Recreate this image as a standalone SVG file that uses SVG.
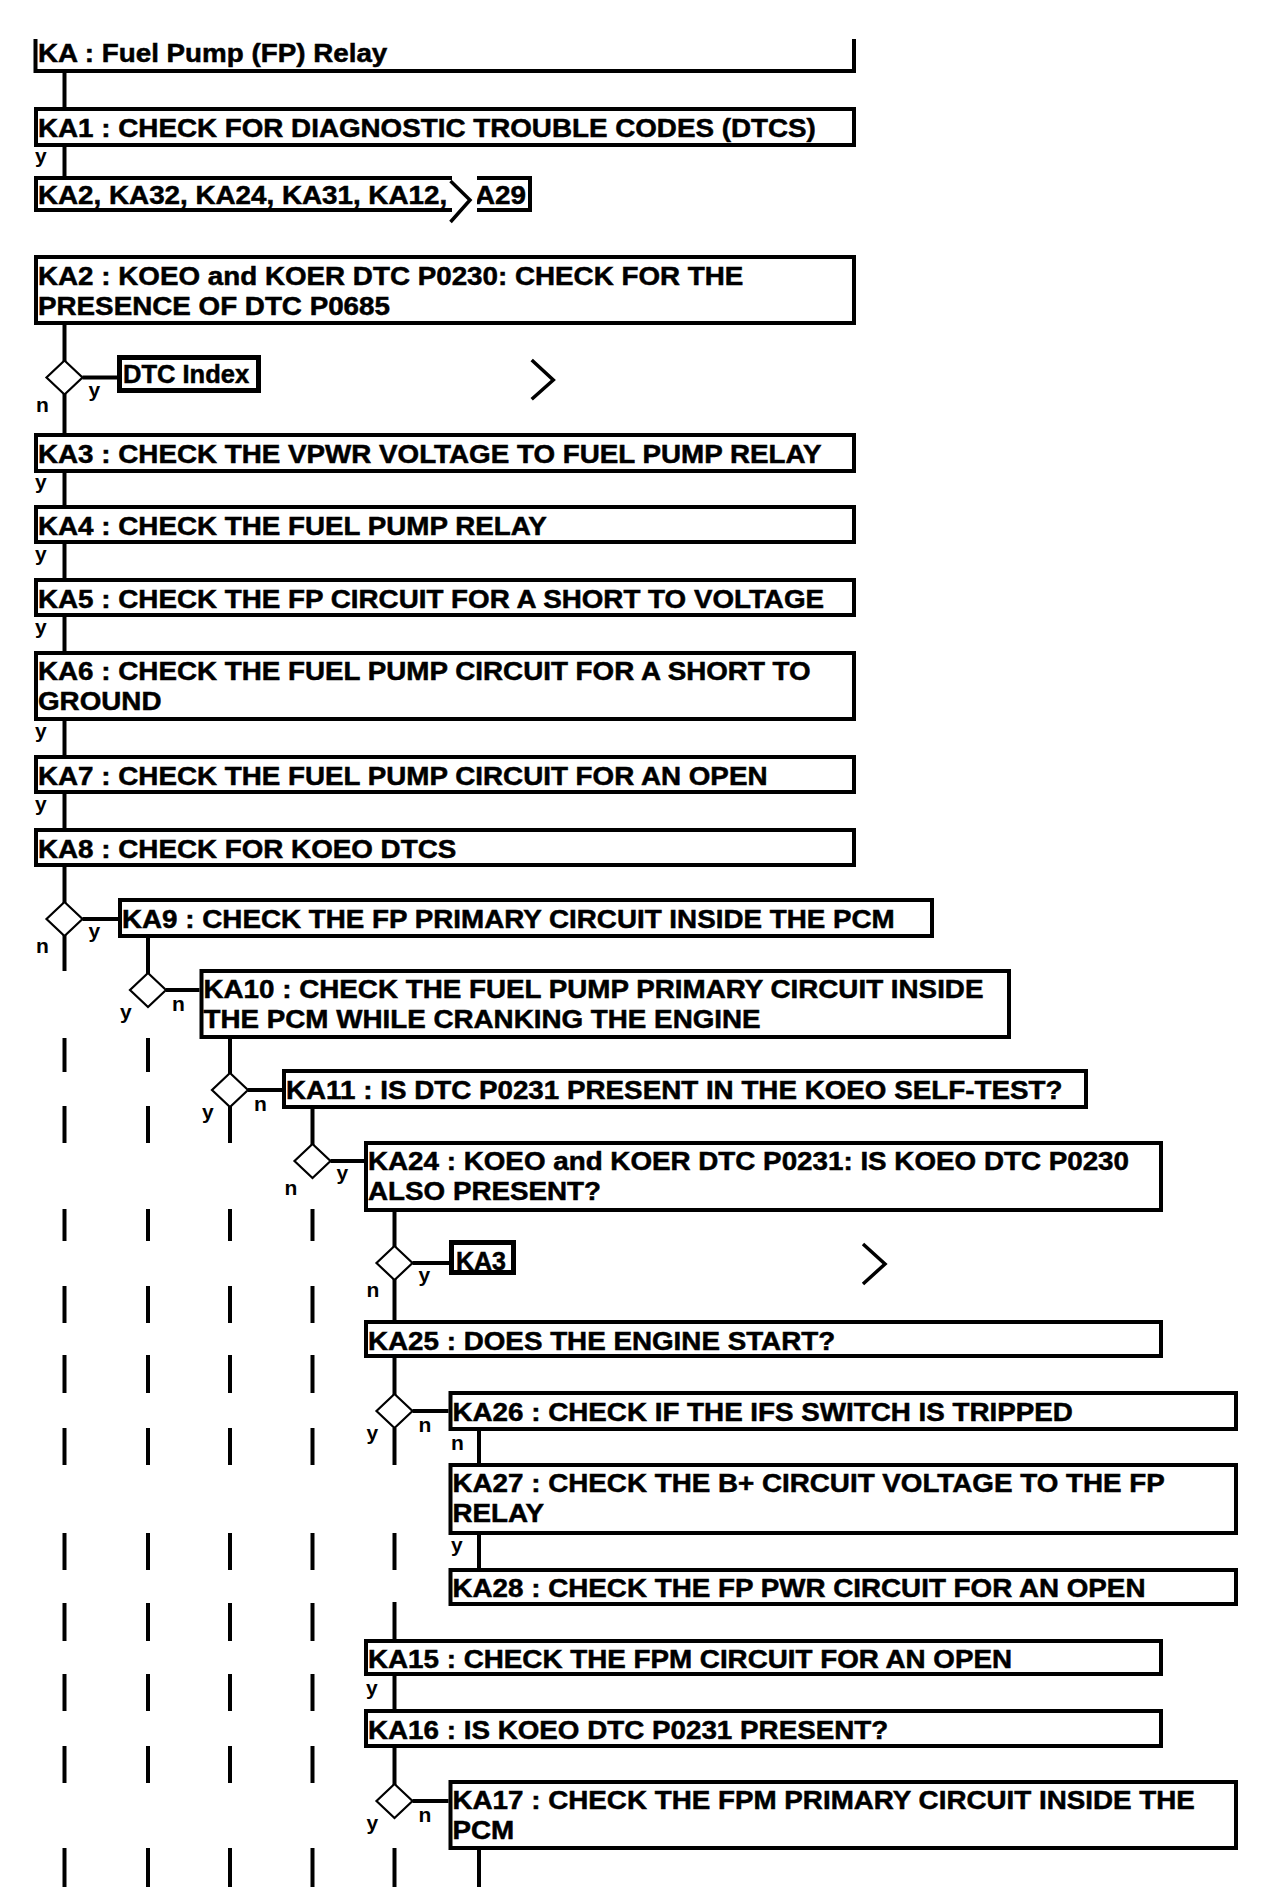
<svg xmlns="http://www.w3.org/2000/svg" width="1280" height="1904" viewBox="0 0 1280 1904">
<style>
.box{fill:#fff;stroke:#000;stroke-width:4}
.ref{fill:#fff;stroke:#000;stroke-width:5}
.dia{fill:#fff;stroke:#000;stroke-width:2.2}
.t{font-family:"Liberation Sans",Arial,sans-serif;font-weight:bold;font-size:25.5px;fill:#000;stroke:#000;stroke-width:0.5}
.l{font-family:"Liberation Sans",Arial,sans-serif;font-weight:bold;font-size:21px;fill:#000}
.c line{stroke:#000;stroke-width:4}
.chev{fill:none;stroke:#000;stroke-width:3.5}
</style>
<rect width="1280" height="1904" fill="#fff"/>
<g id="connectors" class="c">
<line x1="64.5" y1="71" x2="64.5" y2="107"/>
<line x1="64.5" y1="147" x2="64.5" y2="177"/>
<line x1="64.5" y1="325" x2="64.5" y2="361"/>
<line x1="64.5" y1="394" x2="64.5" y2="433"/>
<line x1="64.5" y1="473" x2="64.5" y2="505"/>
<line x1="64.5" y1="544" x2="64.5" y2="578"/>
<line x1="64.5" y1="617" x2="64.5" y2="651"/>
<line x1="64.5" y1="721" x2="64.5" y2="755"/>
<line x1="64.5" y1="794" x2="64.5" y2="828"/>
<line x1="64.5" y1="867" x2="64.5" y2="903"/>
<line x1="64.5" y1="935" x2="64.5" y2="971"/>
<line x1="82.5" y1="377.5" x2="117" y2="377.5"/>
<line x1="82.5" y1="919" x2="118" y2="919"/>
<line x1="148" y1="938" x2="148" y2="974"/>
<line x1="166" y1="990" x2="199.5" y2="990"/>
<line x1="230" y1="1039" x2="230" y2="1074"/>
<line x1="248" y1="1090" x2="282" y2="1090"/>
<line x1="312.5" y1="1109" x2="312.5" y2="1145"/>
<line x1="330.5" y1="1161" x2="364" y2="1161"/>
<line x1="394.5" y1="1212" x2="394.5" y2="1247"/>
<line x1="412.5" y1="1263" x2="449" y2="1263"/>
<line x1="394.5" y1="1279" x2="394.5" y2="1320"/>
<line x1="394.5" y1="1358" x2="394.5" y2="1395"/>
<line x1="412.5" y1="1411" x2="448.5" y2="1411"/>
<line x1="479" y1="1431" x2="479" y2="1463"/>
<line x1="479" y1="1535" x2="479" y2="1568"/>
<line x1="394.5" y1="1602" x2="394.5" y2="1639"/>
<line x1="394.5" y1="1676" x2="394.5" y2="1709"/>
<line x1="394.5" y1="1748" x2="394.5" y2="1785"/>
<line x1="412.5" y1="1801" x2="448.5" y2="1801"/>
<line x1="479" y1="1850" x2="479" y2="1887"/>
<line x1="64.5" y1="1038" x2="64.5" y2="1072"/><line x1="148" y1="1038" x2="148" y2="1072"/>
<line x1="64.5" y1="1106" x2="64.5" y2="1143"/><line x1="148" y1="1106" x2="148" y2="1143"/><line x1="230" y1="1106" x2="230" y2="1143"/>
<line x1="64.5" y1="1209" x2="64.5" y2="1241"/><line x1="148" y1="1209" x2="148" y2="1241"/><line x1="230" y1="1209" x2="230" y2="1241"/><line x1="312.5" y1="1209" x2="312.5" y2="1241"/>
<line x1="64.5" y1="1286" x2="64.5" y2="1323"/><line x1="148" y1="1286" x2="148" y2="1323"/><line x1="230" y1="1286" x2="230" y2="1323"/><line x1="312.5" y1="1286" x2="312.5" y2="1323"/>
<line x1="64.5" y1="1355" x2="64.5" y2="1393"/><line x1="148" y1="1355" x2="148" y2="1393"/><line x1="230" y1="1355" x2="230" y2="1393"/><line x1="312.5" y1="1355" x2="312.5" y2="1393"/>
<line x1="64.5" y1="1428" x2="64.5" y2="1465"/><line x1="148" y1="1428" x2="148" y2="1465"/><line x1="230" y1="1428" x2="230" y2="1465"/><line x1="312.5" y1="1428" x2="312.5" y2="1465"/><line x1="394.5" y1="1428" x2="394.5" y2="1465"/>
<line x1="64.5" y1="1533" x2="64.5" y2="1570"/><line x1="148" y1="1533" x2="148" y2="1570"/><line x1="230" y1="1533" x2="230" y2="1570"/><line x1="312.5" y1="1533" x2="312.5" y2="1570"/><line x1="394.5" y1="1533" x2="394.5" y2="1570"/>
<line x1="64.5" y1="1603" x2="64.5" y2="1641"/><line x1="148" y1="1603" x2="148" y2="1641"/><line x1="230" y1="1603" x2="230" y2="1641"/><line x1="312.5" y1="1603" x2="312.5" y2="1641"/>
<line x1="64.5" y1="1674" x2="64.5" y2="1711"/><line x1="148" y1="1674" x2="148" y2="1711"/><line x1="230" y1="1674" x2="230" y2="1711"/><line x1="312.5" y1="1674" x2="312.5" y2="1711"/>
<line x1="64.5" y1="1746" x2="64.5" y2="1783"/><line x1="148" y1="1746" x2="148" y2="1783"/><line x1="230" y1="1746" x2="230" y2="1783"/><line x1="312.5" y1="1746" x2="312.5" y2="1783"/>
<line x1="64.5" y1="1848" x2="64.5" y2="1887"/><line x1="148" y1="1848" x2="148" y2="1887"/><line x1="230" y1="1848" x2="230" y2="1887"/><line x1="312.5" y1="1848" x2="312.5" y2="1887"/><line x1="394.5" y1="1848" x2="394.5" y2="1887"/>
</g>
<g id="labels" class="l">
<text x="35" y="163">y</text>
<text x="35" y="489">y</text>
<text x="35" y="561">y</text>
<text x="35" y="634">y</text>
<text x="35" y="738">y</text>
<text x="35" y="811">y</text>
<text x="88.5" y="397">y</text><text x="36" y="412">n</text>
<text x="88.5" y="938">y</text><text x="36" y="953">n</text>
<text x="172" y="1011">n</text><text x="120" y="1019">y</text>
<text x="254" y="1111">n</text><text x="202" y="1119">y</text>
<text x="336.5" y="1180">y</text><text x="284.5" y="1195">n</text>
<text x="418.5" y="1282">y</text><text x="366.5" y="1297">n</text>
<text x="418.5" y="1432">n</text><text x="366.5" y="1440">y</text>
<text x="451" y="1450">n</text>
<text x="451" y="1552">y</text>
<text x="366" y="1695">y</text>
<text x="418.5" y="1822">n</text><text x="366.5" y="1830">y</text>
</g>
<g id="KA">
<path d="M35.5 39 V71 H854 V39" fill="none" stroke="#000" stroke-width="4"/>
<text class="t" transform="translate(38 62) scale(1.09 1)">KA : Fuel Pump (FP) Relay</text>
</g>
<g id="KA1"><rect class="box" x="36" y="109" width="818" height="36"/><text class="t" transform="translate(38 137) scale(1.09 1)">KA1 : CHECK FOR DIAGNOSTIC TROUBLE CODES (DTCS)</text></g>
<g id="KAlist"><rect class="box" x="36" y="178" width="494" height="32"/><text class="t" transform="translate(38 204) scale(1.09 1)">KA2, KA32, KA24, KA31, KA12, KA29</text>
<rect x="452" y="174" width="25" height="41" fill="#fff"/>
<polyline class="chev" points="450.5,181 470,200 450.5,222"/></g>
<g id="KA2"><rect class="box" x="36" y="257" width="818" height="66"/><text class="t" transform="translate(38 285) scale(1.09 1)">KA2 : KOEO and KOER DTC P0230: CHECK FOR THE</text><text class="t" transform="translate(38 315) scale(1.09 1)">PRESENCE OF DTC P0685</text></g>
<g id="D1"><polygon class="dia" points="64.5,360.5 82.5,377.5 64.5,394.5 46.5,377.5"/></g>
<g id="DTCIndex"><rect class="ref" x="119.5" y="357.5" width="139" height="33"/><text class="t" transform="translate(123 383) scale(1.0 1)">DTC Index</text>
<polyline class="chev" points="531.7,360 553.3,380 531.7,399.3"/></g>
<g id="KA3"><rect class="box" x="36" y="435" width="818" height="36"/><text class="t" transform="translate(38 463) scale(1.09 1)">KA3 : CHECK THE VPWR VOLTAGE TO FUEL PUMP RELAY</text></g>
<g id="KA4"><rect class="box" x="36" y="507" width="818" height="35"/><text class="t" transform="translate(38 535) scale(1.09 1)">KA4 : CHECK THE FUEL PUMP RELAY</text></g>
<g id="KA5"><rect class="box" x="36" y="580" width="818" height="35"/><text class="t" transform="translate(38 608) scale(1.09 1)">KA5 : CHECK THE FP CIRCUIT FOR A SHORT TO VOLTAGE</text></g>
<g id="KA6"><rect class="box" x="36" y="653" width="818" height="66"/><text class="t" transform="translate(38 680) scale(1.09 1)">KA6 : CHECK THE FUEL PUMP CIRCUIT FOR A SHORT TO</text><text class="t" transform="translate(38 710) scale(1.09 1)">GROUND</text></g>
<g id="KA7"><rect class="box" x="36" y="757" width="818" height="35"/><text class="t" transform="translate(38 785) scale(1.09 1)">KA7 : CHECK THE FUEL PUMP CIRCUIT FOR AN OPEN</text></g>
<g id="KA8"><rect class="box" x="36" y="830" width="818" height="35"/><text class="t" transform="translate(38 858) scale(1.09 1)">KA8 : CHECK FOR KOEO DTCS</text></g>
<g id="D9"><polygon class="dia" points="64.5,902 82.5,919 64.5,936 46.5,919"/></g>
<g id="KA9"><rect class="box" x="120" y="900" width="812" height="36"/><text class="t" transform="translate(122 928) scale(1.09 1)">KA9 : CHECK THE FP PRIMARY CIRCUIT INSIDE THE PCM</text></g>
<g id="D10"><polygon class="dia" points="148,973 166,990 148,1007 130,990"/></g>
<g id="KA10"><rect class="box" x="201.5" y="971" width="807.5" height="66"/><text class="t" transform="translate(203.5 998) scale(1.09 1)">KA10 : CHECK THE FUEL PUMP PRIMARY CIRCUIT INSIDE</text><text class="t" transform="translate(203.5 1028) scale(1.09 1)">THE PCM WHILE CRANKING THE ENGINE</text></g>
<g id="D11"><polygon class="dia" points="230,1073 248,1090 230,1107 212,1090"/></g>
<g id="KA11"><rect class="box" x="284" y="1071" width="802" height="36"/><text class="t" transform="translate(286 1099) scale(1.09 1)">KA11 : IS DTC P0231 PRESENT IN THE KOEO SELF-TEST?</text></g>
<g id="D24"><polygon class="dia" points="312.5,1144 330.5,1161 312.5,1178 294.5,1161"/></g>
<g id="KA24"><rect class="box" x="366" y="1143" width="795" height="67"/><text class="t" transform="translate(368 1170) scale(1.09 1)">KA24 : KOEO and KOER DTC P0231: IS KOEO DTC P0230</text><text class="t" transform="translate(368 1200) scale(1.09 1)">ALSO PRESENT?</text></g>
<g id="D3"><polygon class="dia" points="394.5,1246 412.5,1263 394.5,1280 376.5,1263"/></g>
<g id="KA3ref"><rect class="ref" x="451.5" y="1242.5" width="62" height="30"/><text class="t" transform="translate(456 1270) scale(0.98 1)">KA3</text>
<polyline class="chev" points="863,1244 885,1264 863,1284"/></g>
<g id="KA25"><rect class="box" x="366" y="1322" width="795" height="34"/><text class="t" transform="translate(368 1350) scale(1.09 1)">KA25 : DOES THE ENGINE START?</text></g>
<g id="D26"><polygon class="dia" points="394.5,1394 412.5,1411 394.5,1428 376.5,1411"/></g>
<g id="KA26"><rect class="box" x="450.5" y="1393" width="785.5" height="36"/><text class="t" transform="translate(452.5 1421) scale(1.09 1)">KA26 : CHECK IF THE IFS SWITCH IS TRIPPED</text></g>
<g id="KA27"><rect class="box" x="450.5" y="1465" width="785.5" height="68"/><text class="t" transform="translate(452.5 1492) scale(1.09 1)">KA27 : CHECK THE B+ CIRCUIT VOLTAGE TO THE FP</text><text class="t" transform="translate(452.5 1522) scale(1.09 1)">RELAY</text></g>
<g id="KA28"><rect class="box" x="450.5" y="1570" width="785.5" height="34"/><text class="t" transform="translate(452.5 1597) scale(1.09 1)">KA28 : CHECK THE FP PWR CIRCUIT FOR AN OPEN</text></g>
<g id="KA15"><rect class="box" x="366" y="1641" width="795" height="33"/><text class="t" transform="translate(368 1668) scale(1.09 1)">KA15 : CHECK THE FPM CIRCUIT FOR AN OPEN</text></g>
<g id="KA16"><rect class="box" x="366" y="1711" width="795" height="35"/><text class="t" transform="translate(368 1739) scale(1.09 1)">KA16 : IS KOEO DTC P0231 PRESENT?</text></g>
<g id="D17"><polygon class="dia" points="394.5,1784 412.5,1801 394.5,1818 376.5,1801"/></g>
<g id="KA17"><rect class="box" x="450.5" y="1782" width="785.5" height="66"/><text class="t" transform="translate(452.5 1809) scale(1.09 1)">KA17 : CHECK THE FPM PRIMARY CIRCUIT INSIDE THE</text><text class="t" transform="translate(452.5 1839) scale(1.09 1)">PCM</text></g>
</svg>
